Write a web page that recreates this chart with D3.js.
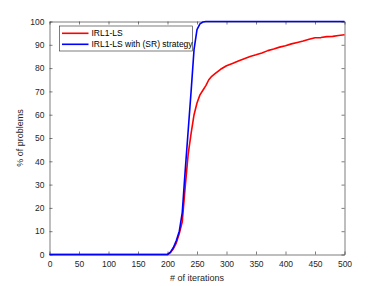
<!DOCTYPE html>
<html>
<head>
<meta charset="utf-8">
<script src="https://cdn.jsdelivr.net/npm/d3@7"></script>
<style>
  body { margin: 0; background: #fff; }
  svg { display: block; font-family: "Liberation Sans", Arial, sans-serif; }
</style>
</head>
<body>
<svg class="chart" width="381" height="286"></svg>
<script>
const iterRed  = [0, 200, 205, 210, 215, 220, 225, 230, 235, 240, 245, 250, 255, 260, 265, 270, 275, 280, 290, 300, 310, 320, 330, 340, 350, 360, 370, 380, 390, 400, 410, 420, 430, 440, 450, 460, 470, 480, 490, 500];
const valsRed  = [0, 0, 0.8, 2.5, 5, 9, 14, 29, 43, 52, 60, 65, 68.5, 70.5, 72.5, 75, 76.5, 77.5, 79.5, 81, 82, 83, 84, 85, 85.7, 86.5, 87.5, 88.2, 89, 89.6, 90.4, 91, 91.6, 92.4, 93, 93.1, 93.5, 93.6, 94, 94.3];
const iterBlue = [0, 200, 205, 210, 215, 220, 225, 230, 235, 240, 245, 250, 255, 260, 265, 500];
const valsBlue = [0, 0, 1, 3, 6, 10, 18, 36, 53, 70, 88, 96.5, 99, 99.8, 100, 100];

const seriesNames = ["IRL1-LS", "IRL1-LS with (SR) strategy"];
const seriesColors = ["#ff0000", "#0000ff"];
const xTicks = [0, 50, 100, 150, 200, 250, 300, 350, 400, 450, 500];
const yTicks = [0, 10, 20, 30, 40, 50, 60, 70, 80, 90, 100];

const margin = {top: 21.5, right: 36.5, bottom: 31.5, left: 49.5};
const width = 381 - margin.left - margin.right,
      height = 286 - margin.top - margin.bottom;

const svg = d3.select(".chart")
    .append("g")
    .attr("transform", `translate(${margin.left},${margin.top})`);

const x = d3.scaleLinear().domain([0, 500]).range([0, width]);
const y = d3.scaleLinear().domain([0, 100]).range([height, 0]);

const axisColor = "#262626";
const tickLen = 3;

// axes with inner ticks (box style)
const gx = svg.append("g")
    .attr("transform", `translate(0,${height})`)
    .call(d3.axisBottom(x).tickValues(xTicks).tickSizeInner(-tickLen).tickSizeOuter(0).tickPadding(6));
const gy = svg.append("g")
    .call(d3.axisLeft(y).tickValues(yTicks).tickSizeInner(-tickLen).tickSizeOuter(0).tickPadding(5));
const gxTop = svg.append("g")
    .call(d3.axisTop(x).tickValues(xTicks).tickSizeInner(-tickLen).tickSizeOuter(0).tickFormat(""));
const gyRight = svg.append("g")
    .attr("transform", `translate(${width},0)`)
    .call(d3.axisRight(y).tickValues(yTicks).tickSizeInner(-tickLen).tickSizeOuter(0).tickFormat(""));

[gx, gy, gxTop, gyRight].forEach(g => {
    g.select(".domain").attr("stroke", axisColor).attr("stroke-width", 0.6);
    g.selectAll(".tick line").attr("stroke", axisColor).attr("stroke-width", 0.6);
    g.selectAll(".tick text")
        .style("font-size", "8.5px")
        .style("font-family", "Liberation Sans, Arial, sans-serif")
        .attr("fill", axisColor);
});

// lines
const line = d3.line()
    .x(d => x(d[0]))
    .y(d => y(d[1]));

svg.append("path")
    .datum(d3.zip(iterRed, valsRed))
    .attr("fill", "none")
    .attr("stroke", seriesColors[0])
    .attr("stroke-width", 1.6)
    .attr("stroke-linejoin", "round")
    .attr("d", line);

svg.append("path")
    .datum(d3.zip(iterBlue, valsBlue))
    .attr("fill", "none")
    .attr("stroke", seriesColors[1])
    .attr("stroke-width", 1.6)
    .attr("stroke-linejoin", "round")
    .attr("d", line);

// axis labels
svg.append("text")
    .attr("x", width / 2)
    .attr("y", height + 26)
    .attr("text-anchor", "middle")
    .style("font-size", "9px")
    .attr("fill", axisColor)
    .text("# of iterations");

svg.append("text")
    .attr("transform", "rotate(-90)")
    .attr("x", -height / 2)
    .attr("y", -27)
    .attr("text-anchor", "middle")
    .style("font-size", "9px")
    .attr("fill", axisColor)
    .text("% of problems");

// legend
const legend = svg.append("g")
    .attr("transform", `translate(${59.5 - margin.left},${26 - margin.top})`);

legend.append("rect")
    .attr("width", 133)
    .attr("height", 25)
    .attr("fill", "#fff")
    .attr("stroke", axisColor)
    .attr("stroke-width", 0.6);

const item = legend.selectAll(".legend")
    .data(seriesNames)
    .enter().append("g")
    .attr("class", "legend")
    .attr("transform", (d, i) => `translate(0,${7.3 + i * 11})`);

item.append("line")
    .attr("x1", 2.5)
    .attr("x2", 29)
    .attr("stroke", (d, i) => seriesColors[i])
    .attr("stroke-width", 1.6);

item.append("text")
    .attr("x", 32)
    .attr("dy", "0.35em")
    .style("font-size", "8.5px")
    .attr("fill", "#000")
    .text(d => d);
</script>
</body>
</html>
